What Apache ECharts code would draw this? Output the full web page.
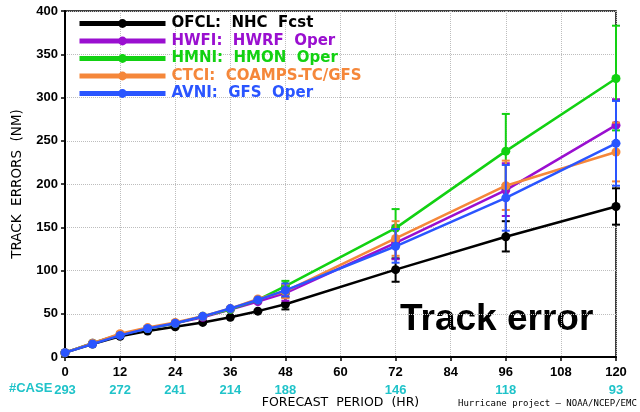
<!DOCTYPE html>
<html>
<head>
<meta charset="utf-8">
<script src="https://cdn.jsdelivr.net/npm/echarts@6/dist/echarts.min.js"></script>
<style>
  html, body { margin: 0; padding: 0; background: #fff; }
  #chart { width: 640px; height: 412px; }
</style>
</head>
<body>
<div id="chart"></div>
<script>
// Forecast hours and mean track errors (NM)
const hours = [0, 6, 12, 18, 24, 30, 36, 42, 48, 72, 96, 120];
const caseHours = [0, 12, 24, 36, 48, 72, 96, 120];
const caseCounts = [293, 272, 241, 214, 188, 146, 118, 93];

const ofcl = [5, 15, 24, 30, 35, 40, 46, 53, 61, 101, 139, 174];
const hwfi = [5, 16, 26, 33, 39, 46, 55, 64, 74, 132, 193, 268];
const hmni = [5, 16, 26, 33, 39, 47, 55, 66, 82, 149, 238, 322];
const ctci = [5, 16, 27, 34, 40, 47, 56, 67, 76, 137, 198, 237];
const avni = [5, 15, 25, 33, 39, 47, 56, 66, 77, 128, 184, 247];

// Confidence intervals at the longer lead times
const errHours = [48, 72, 96, 120];
const ofclLow = [55, 87, 122, 153],  ofclHigh = [69, 114, 157, 195];
const hwfiLow = [65, 113, 163, 238], hwfiHigh = [82, 152, 224, 298];
const hmniLow = [73, 128, 195, 262], hmniHigh = [88, 171, 281, 383];
const ctciLow = [68, 117, 170, 203], ctciHigh = [84, 157, 227, 271];
const avniLow = [70, 109, 146, 198], avniHigh = [85, 148, 222, 296];

const models = [
  { name: 'OFCL:  NHC  Fcst',       color: '#000000', vals: ofcl, lo: ofclLow, hi: ofclHigh },
  { name: 'HWFI:  HWRF  Oper',      color: '#9a0fd0', vals: hwfi, lo: hwfiLow, hi: hwfiHigh },
  { name: 'HMNI:  HMON  Oper',      color: '#12d112', vals: hmni, lo: hmniLow, hi: hmniHigh },
  { name: 'CTCI:  COAMPS-TC/GFS',   color: '#f5873a', vals: ctci, lo: ctciLow, hi: ctciHigh },
  { name: 'AVNI:  GFS  Oper',       color: '#2a55ff', vals: avni, lo: avniLow, hi: avniHigh }
];

const FONT = '"Liberation Sans", Arial, sans-serif';
const WIDE = '"DejaVu Sans", sans-serif';

function errorBarRenderer(color) {
  return function (params, api) {
    const x = api.value(0);
    const top = api.coord([x, api.value(2)]);
    const bot = api.coord([x, api.value(1)]);
    const w = 4;
    const style = { stroke: color, lineWidth: 2 };
    return {
      type: 'group',
      children: [
        { type: 'line', shape: { x1: top[0], y1: top[1], x2: bot[0], y2: bot[1] }, style },
        { type: 'line', shape: { x1: top[0] - w, y1: top[1], x2: top[0] + w, y2: top[1] }, style },
        { type: 'line', shape: { x1: bot[0] - w, y1: bot[1], x2: bot[0] + w, y2: bot[1] }, style }
      ]
    };
  };
}

const series = [];
models.forEach(function (m, i) {
  series.push({
    name: m.name,
    type: 'line',
    data: hours.map(function (h, k) { return [h, m.vals[k]]; }),
    symbol: 'circle',
    symbolSize: 9,
    color: m.color,
    lineStyle: { width: 2.5, color: m.color },
    itemStyle: { color: m.color },
    z: 3 + i
  });
  series.push({
    name: m.name + ' ci',
    type: 'custom',
    renderItem: errorBarRenderer(m.color),
    data: errHours.map(function (h, k) { return [h, m.lo[k], m.hi[k]]; }),
    encode: { x: 0, y: [1, 2] },
    z: 3 + i,
    silent: true
  });
});

const chart = echarts.init(document.getElementById('chart'), null, { renderer: 'canvas' });
chart.setOption({
  animation: false,
  backgroundColor: '#ffffff',
  grid: {
    left: 65, right: 24, top: 11, bottom: 55,
    outerBoundsMode: 'none',
    show: true, borderColor: '#000', borderWidth: 1.5
  },
  legend: {
    orient: 'vertical',
    left: 72, top: 11,
    itemWidth: 86, itemHeight: 11, itemGap: 2.5,
    lineStyle: { width: 5 },
    data: models.map(function (m) {
      return { name: m.name, textStyle: { color: m.color } };
    }),
    textStyle: { fontFamily: WIDE, fontWeight: 'bold', fontSize: 15, padding: [0, 0, 0, 1] }
  },
  xAxis: {
    type: 'value', min: 0, max: 120, interval: 12,
    name: 'FORECAST  PERIOD  (HR)',
    nameLocation: 'middle', nameGap: 39, nameMoveOverlap: false,
    nameTextStyle: { fontFamily: WIDE, fontSize: 12.5, color: '#000' },
    axisLine: { lineStyle: { color: '#000', width: 2 } },
    axisTick: { show: true, length: 4, lineStyle: { color: '#000', width: 1.5 } },
    splitLine: { show: true, lineStyle: { type: 'dotted', color: '#bdbdbd', width: 1 } },
    axisLabel: {
      margin: 6,
      formatter: function (v) {
        const k = caseHours.indexOf(v);
        return k >= 0 ? '{v|' + v + '}\n{c|' + caseCounts[k] + '}' : '{v|' + v + '}';
      },
      rich: {
        v: { fontFamily: FONT, fontWeight: 'bold', fontSize: 13, color: '#000', lineHeight: 18 },
        c: { fontFamily: FONT, fontWeight: 'bold', fontSize: 13, color: '#1fc3c9', lineHeight: 18 }
      }
    }
  },
  yAxis: {
    type: 'value', min: 0, max: 400, interval: 50,
    name: 'TRACK  ERRORS  (NM)',
    nameLocation: 'middle', nameGap: 41, nameRotate: 90, nameMoveOverlap: false,
    nameTextStyle: { fontFamily: WIDE, fontSize: 13.5, color: '#000' },
    axisLine: { show: true, lineStyle: { color: '#000', width: 2 } },
    axisTick: { show: true, length: 4, lineStyle: { color: '#000', width: 1.5 } },
    splitLine: { show: true, lineStyle: { type: 'dotted', color: '#bdbdbd', width: 1 } },
    axisLabel: { fontFamily: FONT, fontWeight: 'bold', fontSize: 13, color: '#000', margin: 7 }
  },
  graphic: [
    {
      type: 'text', left: 9, top: 382,
      style: { text: '#CASE', fontFamily: FONT, fontWeight: 'bold', fontSize: 13, fill: '#1fc3c9' }
    },
    {
      type: 'text', left: 400, top: 301,
      style: { text: 'Track error', fontFamily: FONT, fontWeight: 'bold', fontSize: 37, fill: '#000' }
    },
    {
      type: 'text', left: 458, top: 399,
      style: { text: 'Hurricane project – NOAA/NCEP/EMC', fontFamily: '"DejaVu Sans Mono", monospace', fontSize: 9, fill: '#000' }
    }
  ],
  series: series
});
</script>
</body>
</html>
